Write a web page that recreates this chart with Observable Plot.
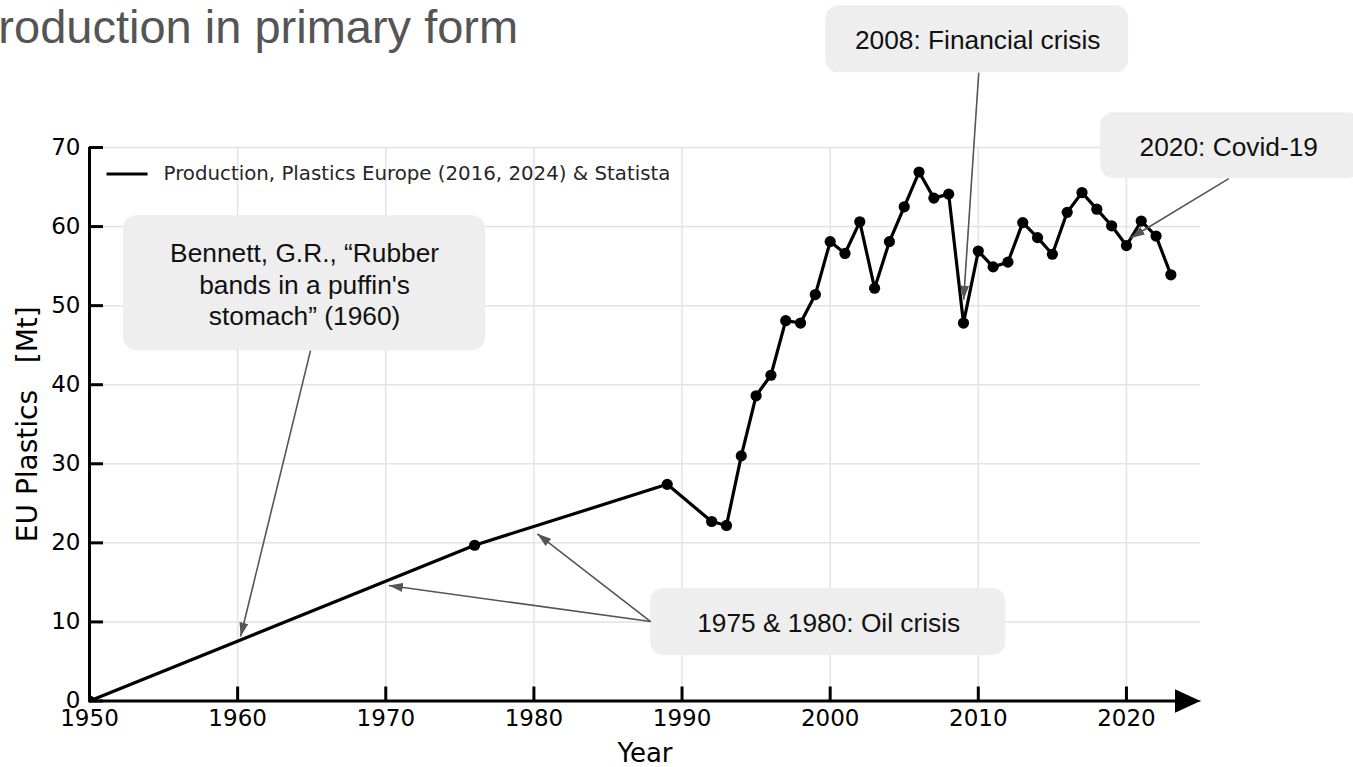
<!DOCTYPE html>
<html><head><meta charset="utf-8">
<script src="https://cdn.jsdelivr.net/npm/d3@7"></script>
<script src="https://cdn.jsdelivr.net/npm/@observablehq/plot@0.6"></script>
<style>
html,body{margin:0;padding:0;background:#fff;overflow:hidden;}
#wrap{position:relative;width:1353px;height:767px;overflow:hidden;background:#fff;}
#chart{position:absolute;left:0;top:0;}
#title{position:absolute;left:-33px;top:3px;font-family:"Liberation Sans",Arial,sans-serif;font-size:47px;color:#555;white-space:nowrap;line-height:1;}
</style></head><body>
<div id="wrap"><div id="chart"></div><div id="title">Production in primary form</div></div>
<script>
// ---- data ----
const years = [1950, 1976, 1989, 1992, 1993, 1994, 1995, 1996, 1997, 1998, 1999,
  2000, 2001, 2002, 2003, 2004, 2005, 2006, 2007, 2008, 2009,
  2010, 2011, 2012, 2013, 2014, 2015, 2016, 2017, 2018, 2019,
  2020, 2021, 2022, 2023];
const production = [0, 19.7, 27.4, 22.7, 22.2, 31.0, 38.6, 41.2, 48.1, 47.8, 51.4,
  58.1, 56.6, 60.6, 52.2, 58.1, 62.5, 66.9, 63.6, 64.1, 47.8,
  56.9, 54.9, 55.5, 60.5, 58.6, 56.5, 61.8, 64.3, 62.2, 60.1,
  57.6, 60.7, 58.8, 53.9];
const xTicks = [1950, 1960, 1970, 1980, 1990, 2000, 2010, 2020];
const yTicks = [0, 10, 20, 30, 40, 50, 60, 70];
const seriesLabel = "Production, Plastics Europe (2016, 2024) & Statista";
const xLabel = "Year";
const yLabel = "EU Plastics   [Mt]";

// annotations (data coordinates)
const noteText = ["2008: Financial crisis", "2020: Covid-19",
  "Bennett, G.R., \u201cRubber\nbands in a puffin's\nstomach\u201d (1960)", "1975 & 1980: Oil crisis"];
const noteX = [2009.96, 2026.91, 1964.52, 1999.9];
const noteY = [83.69, 70.23, 52.8, 9.99];
const boxX1 = [1999.70, 2018.26, 1952.30, 1987.88];
const boxX2 = [2020.15, 2035.82, 1976.74, 2011.85];
const boxY1 = [87.93, 74.40, 61.38, 14.22];
const boxY2 = [79.46, 66.06, 44.31, 5.75];
const arrowFromX = [2010.03, 2026.91, 1964.92, 1987.88, 1987.88];
const arrowFromY = [79.46, 66.06, 44.31, 10.05, 10.05];
const arrowToX = [2009.01, 2020.29, 1960.20, 1970.21, 1980.23];
const arrowToY = [50.76, 58.56, 8.15, 14.60, 21.14];

const data = years.map((year, i) => ({year, value: production[i]}));
const notes = noteText.map((t, i) => i);
const arrows = arrowFromX.map((t, i) => i);

const NS = "http://www.w3.org/2000/svg";
function head(len, wid) {
  return (color, context) => {
    const doc = (context && context.document) || document;
    const m = doc.createElementNS(NS, "marker");
    m.setAttribute("viewBox", `${-len} ${-wid / 2} ${len} ${wid}`);
    m.setAttribute("markerWidth", len);
    m.setAttribute("markerHeight", wid);
    m.setAttribute("markerUnits", "userSpaceOnUse");
    m.setAttribute("refX", 0);
    m.setAttribute("refY", 0);
    m.setAttribute("orient", "auto");
    const p = doc.createElementNS(NS, "path");
    p.setAttribute("d", `M0,0L${-len},${-wid / 2}L${-len},${wid / 2}Z`);
    p.setAttribute("fill", color);
    p.setAttribute("stroke", "none");
    m.appendChild(p);
    return m;
  };
}

const W = 1353, H = 767, ML = 89, MR = 153, MT = 147, MB = 66.5;
const frameW = W - ML - MR, frameH = H - MT - MB;

const chart = Plot.plot({
  width: W, height: H,
  marginLeft: ML, marginRight: MR, marginTop: MT, marginBottom: MB,
  style: {fontFamily: "DejaVu Sans", fontSize: "23px", color: "black", background: "white"},
  x: {domain: [1950, 2025], axis: null},
  y: {domain: [0, 70], axis: null},
  marks: [
    Plot.gridX(xTicks, {stroke: "#e3e3e3", strokeOpacity: 1, strokeWidth: 1.5}),
    Plot.gridY(yTicks, {stroke: "#e3e3e3", strokeOpacity: 1, strokeWidth: 1.5}),
    Plot.line(data, {x: "year", y: "value", stroke: "black", strokeWidth: 3.2}),
    Plot.dot(data, {x: "year", y: "value", r: 5.6, fill: "black", clip: true}),
    // axes
    Plot.ruleX([1950], {stroke: "black", strokeWidth: 3}),
    Plot.ruleY([0], {x1: 1950, x2: 2023.6, stroke: "black", strokeWidth: 3}),
    Plot.link([0], {x1: 2023.2, y1: 0, x2: 2025, y2: 0, stroke: "black", strokeWidth: 1, markerEnd: head(26, 24)}),
    Plot.tickY(yTicks, {y: d => d, stroke: "black", strokeWidth: 3, insetRight: frameW - 14}),
    Plot.tickX(xTicks, {x: d => d, stroke: "black", strokeWidth: 3, insetTop: frameH - 14}),
    Plot.axisY({ticks: yTicks, tickSize: 0, tickPadding: 9, fontSize: 23, label: null, tickFormat: d => `${d}`}),
    Plot.axisX({ticks: xTicks, tickSize: 0, tickPadding: 9, fontSize: 23, label: null, tickFormat: d => `${d}`}),
    Plot.text([yLabel], {frameAnchor: "left", dx: -61.5, rotate: -90, textAnchor: "middle", lineAnchor: "middle", fontSize: 28, fill: "black"}),
    Plot.text([xLabel], {frameAnchor: "bottom", dy: 52.5, textAnchor: "middle", lineAnchor: "middle", fontSize: 26, fill: "black"}),
    // legend
    Plot.link([0], {x1: 1951.15, x2: 1953.92, y1: 66.65, y2: 66.65, stroke: "black", strokeWidth: 3}),
    Plot.text([seriesLabel], {x: 1955.0, y: 66.65, textAnchor: "start", lineAnchor: "middle", fontSize: 19.8, fill: "#262626"}),
    // annotations
    Plot.rect(notes, {x1: i => boxX1[i], x2: i => boxX2[i], y1: i => boxY1[i], y2: i => boxY2[i], fill: "#eeeeee", rx: 13}),
    Plot.text(notes, {x: i => noteX[i], y: i => noteY[i], text: i => noteText[i], fontFamily: "Liberation Sans", fontSize: 26.3, lineHeight: 1.2, fill: "#111", textAnchor: "middle", lineAnchor: "middle"}),
    Plot.link(arrows, {x1: i => arrowFromX[i], y1: i => arrowFromY[i], x2: i => arrowToX[i], y2: i => arrowToY[i], stroke: "#555", strokeWidth: 1.6, markerEnd: head(14, 9)})
  ]
});
document.getElementById("chart").appendChild(chart);
</script>
</body></html>
